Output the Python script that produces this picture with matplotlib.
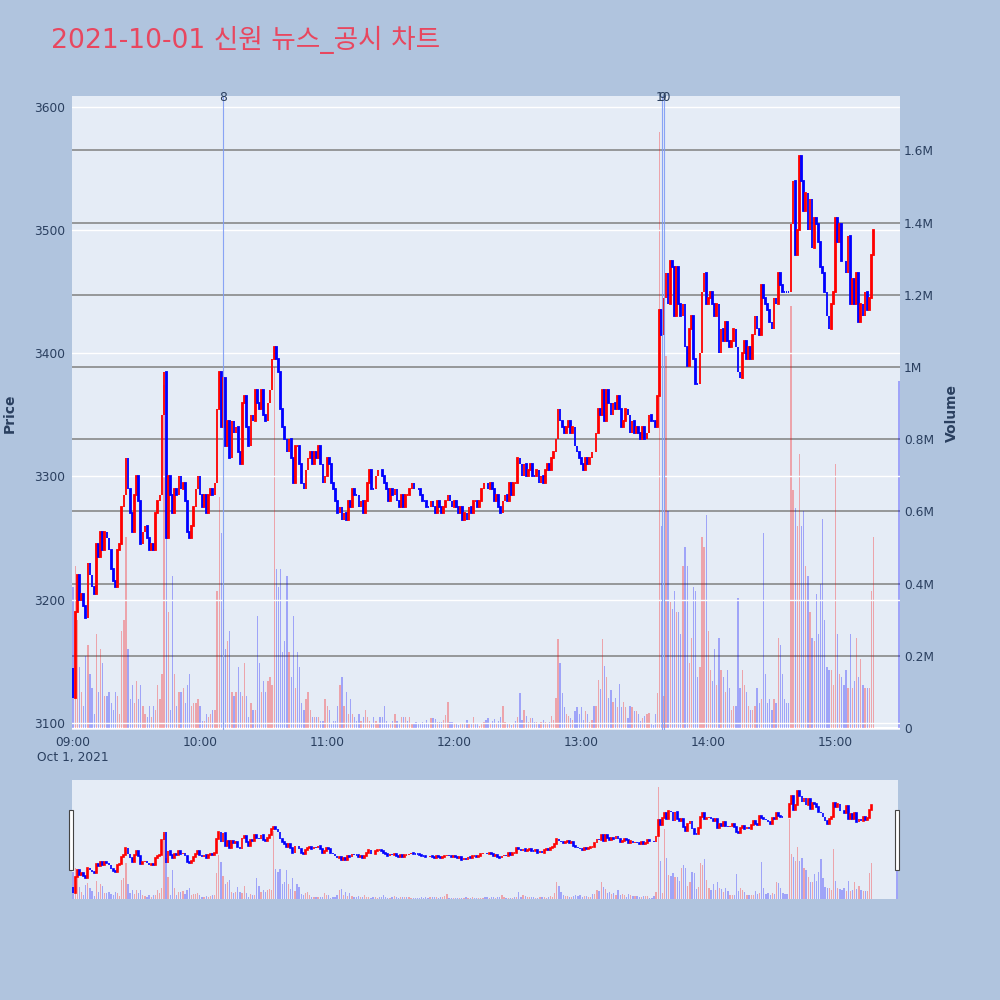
import matplotlib
matplotlib.use('Agg')
import matplotlib.pyplot as plt
from matplotlib.patches import Rectangle

plt.rcParams['font.family'] = ['DejaVu Sans', 'Noto Sans CJK KR']

# ---------------- data ----------------
title = '2021-10-01 신원 뉴스_공시 차트'
first_open = 3145
# 1-minute closes from 09:00 onward
closes = [
    3120, 3190, 3220, 3200, 3205, 3195, 3185, 3230, 3220, 3210,
    3205, 3245, 3235, 3255, 3240, 3255, 3250, 3240, 3225, 3215,
    3210, 3240, 3245, 3275, 3285, 3315, 3290, 3270, 3255, 3285,
    3300, 3280, 3245, 3255, 3260, 3250, 3240, 3245, 3240, 3270,
    3280, 3285, 3350, 3385, 3250, 3300, 3285, 3270, 3290, 3285,
    3300, 3290, 3295, 3280, 3255, 3250, 3260, 3275, 3290, 3300,
    3285, 3275, 3285, 3270, 3285, 3290, 3285, 3295, 3355, 3385,
    3340, 3380, 3325, 3345, 3315, 3345, 3335, 3340, 3320, 3310,
    3360, 3365, 3340, 3325, 3350, 3345, 3370, 3360, 3355, 3370,
    3350, 3345, 3360, 3370, 3395, 3405, 3395, 3385, 3355, 3340,
    3330, 3320, 3330, 3315, 3295, 3325, 3325, 3310, 3295, 3290,
    3305, 3315, 3320, 3310, 3320, 3315, 3325, 3310, 3295, 3300,
    3315, 3310, 3295, 3290, 3280, 3270, 3275, 3265, 3270, 3265,
    3280, 3275, 3290, 3285, 3285, 3275, 3280, 3270, 3280, 3295,
    3305, 3290, 3290, 3300, 3305, 3305, 3300, 3295, 3290, 3280,
    3290, 3285, 3290, 3280, 3275, 3285, 3275, 3285, 3285, 3290,
    3295, 3290, 3290, 3290, 3285, 3280, 3280, 3275, 3275, 3280,
    3275, 3270, 3280, 3275, 3270, 3275, 3280, 3285, 3280, 3275,
    3280, 3275, 3270, 3275, 3265, 3270, 3265, 3275, 3270, 3280,
    3280, 3275, 3280, 3290, 3295, 3295, 3290, 3295, 3290, 3280,
    3285, 3275, 3270, 3280, 3285, 3280, 3295, 3285, 3295, 3295,
    3315, 3310, 3300, 3310, 3300, 3305, 3310, 3300, 3300, 3305,
    3295, 3300, 3295, 3305, 3310, 3305, 3315, 3320, 3330, 3355,
    3345, 3340, 3335, 3340, 3345, 3335, 3340, 3325, 3320, 3315,
    3310, 3305, 3315, 3310, 3315, 3320, 3320, 3335, 3355, 3350,
    3370, 3345, 3370, 3360, 3350, 3360, 3355, 3365, 3355, 3340,
    3345, 3355, 3350, 3335, 3345, 3335, 3340, 3335, 3330, 3340,
    3330, 3335, 3350, 3345, 3345, 3340, 3365, 3435, 3415, 3445,
    3465, 3440, 3475, 3470, 3430, 3470, 3440, 3430, 3440, 3405,
    3390, 3420, 3430, 3395, 3375, 3375, 3400, 3450, 3465, 3440,
    3445, 3450, 3440, 3430, 3440, 3400, 3420, 3410, 3425, 3410,
    3405, 3410, 3420, 3405, 3385, 3380, 3400, 3410, 3395, 3405,
    3395, 3415, 3430, 3420, 3415, 3455, 3445, 3440, 3435, 3425,
    3420, 3445, 3440, 3465, 3455, 3450, 3450, 3450, 3450, 3505,
    3540, 3480, 3500, 3560, 3540, 3515, 3530, 3500, 3525, 3485,
    3510, 3505, 3490, 3470, 3465, 3450, 3430, 3420, 3440, 3450,
    3510, 3490, 3505, 3475, 3475, 3465, 3495, 3440, 3460, 3440,
    3465, 3425, 3440, 3430, 3450, 3435, 3445, 3480, 3500,
]
# 1-minute volumes, millions of shares
volumes_m = [
    0.39, 0.45, 0.30, 0.17, 0.10, 0.06, 0.20, 0.23, 0.15, 0.11,
    0.04, 0.26, 0.10, 0.22, 0.18, 0.09, 0.09, 0.10, 0.07, 0.05,
    0.10, 0.09, 0.04, 0.27, 0.30, 0.53, 0.22, 0.08, 0.12, 0.07,
    0.13, 0.08, 0.12, 0.06, 0.04, 0.03, 0.06, 0.03, 0.06, 0.05,
    0.12, 0.08, 0.15, 0.95, 0.60, 0.32, 0.05, 0.42, 0.15, 0.06,
    0.10, 0.10, 0.11, 0.07, 0.12, 0.15, 0.06, 0.07, 0.07, 0.08,
    0.06, 0.02, 0.02, 0.04, 0.03, 0.04, 0.05, 0.05, 0.38, 0.64,
    0.54, 0.33, 0.22, 0.24, 0.27, 0.10, 0.09, 0.10, 0.17, 0.10,
    0.09, 0.18, 0.09, 0.03, 0.07, 0.05, 0.05, 0.31, 0.18, 0.10,
    0.13, 0.10, 0.13, 0.14, 0.12, 1.00, 0.44, 0.39, 0.44, 0.21,
    0.24, 0.42, 0.21, 0.14, 0.31, 0.11, 0.21, 0.17, 0.07, 0.05,
    0.08, 0.10, 0.05, 0.03, 0.03, 0.03, 0.03, 0.02, 0.02, 0.08,
    0.06, 0.05, 0.01, 0.02, 0.02, 0.06, 0.12, 0.14, 0.06, 0.10,
    0.04, 0.08, 0.04, 0.03, 0.02, 0.04, 0.02, 0.03, 0.05, 0.03,
    0.02, 0.01, 0.03, 0.02, 0.01, 0.03, 0.03, 0.06, 0.02, 0.01,
    0.015, 0.02, 0.04, 0.02, 0.01, 0.03, 0.03, 0.03, 0.02, 0.03,
    0.01, 0.01, 0.016, 0.011, 0.011, 0.018, 0.015, 0.022, 0.015, 0.029,
    0.027, 0.024, 0.018, 0.016, 0.018, 0.022, 0.036, 0.073, 0.016, 0.016,
    0.013, 0.011, 0.008, 0.011, 0.011, 0.015, 0.022, 0.011, 0.015, 0.031,
    0.011, 0.011, 0.006, 0.013, 0.016, 0.022, 0.027, 0.013, 0.02, 0.025,
    0.012, 0.02, 0.03, 0.06, 0.018, 0.015, 0.012, 0.007, 0.012, 0.02,
    0.03, 0.098, 0.023, 0.049, 0.034, 0.018, 0.029, 0.029, 0.018, 0.016,
    0.012, 0.018, 0.023, 0.018, 0.012, 0.018, 0.034, 0.023, 0.084, 0.246,
    0.179, 0.098, 0.057, 0.04, 0.034, 0.029, 0.023, 0.046, 0.057, 0.04,
    0.057, 0.023, 0.046, 0.04, 0.018, 0.023, 0.062, 0.062, 0.134, 0.107,
    0.246, 0.173, 0.14, 0.084, 0.104, 0.073, 0.084, 0.057, 0.123, 0.057,
    0.073, 0.057, 0.029, 0.062, 0.057, 0.046, 0.046, 0.04, 0.02, 0.029,
    0.034, 0.04, 0.042, 0.011, 0.007, 0.04, 0.096, 1.65, 0.56, 0.09,
    1.03, 0.60, 0.35, 0.33, 0.38, 0.32, 0.32, 0.26, 0.45, 0.50,
    0.45, 0.18, 0.25, 0.39, 0.38, 0.14, 0.17, 0.53, 0.50, 0.59,
    0.27, 0.16, 0.13, 0.22, 0.12, 0.25, 0.16, 0.14, 0.10, 0.16,
    0.11, 0.05, 0.06, 0.06, 0.36, 0.11, 0.16, 0.12, 0.10, 0.06,
    0.05, 0.05, 0.06, 0.11, 0.07, 0.08, 0.54, 0.15, 0.07, 0.08,
    0.05, 0.08, 0.07, 0.25, 0.23, 0.15, 0.08, 0.07, 0.07, 1.17,
    0.66, 0.61, 0.56, 0.76, 0.56, 0.60, 0.45, 0.42, 0.32, 0.25,
    0.24, 0.37, 0.26, 0.40, 0.58, 0.30, 0.17, 0.16, 0.16, 0.12,
    0.73, 0.26, 0.15, 0.14, 0.12, 0.16, 0.11, 0.26, 0.11, 0.13,
    0.25, 0.14, 0.19, 0.12, 0.11, 0.11, 0.11, 0.38, 0.53,
]
# closing auction candle at 15:30 (390 minutes after 09:00)
auction_minute = 390
auction_price = 3500
auction_volume_m = 0.96

news_minutes = [71, 278, 279]          # 10:11, 13:38, 13:39
news_labels = ['8', '9', '10']

price_ticks = [3100, 3200, 3300, 3400, 3500, 3600]
vol_ticks_m = [0, 0.2, 0.4, 0.6, 0.8, 1.0, 1.2, 1.4, 1.6]
vol_tick_labels = ['0', '0.2M', '0.4M', '0.6M', '0.8M', '1M', '1.2M', '1.4M', '1.6M']
time_ticks = [0, 60, 120, 180, 240, 300, 360]
time_tick_labels = ['09:00\nOct 1, 2021', '10:00', '11:00', '12:00', '13:00', '14:00', '15:00']

# ---------------- prepare ----------------
n = min(len(closes), len(volumes_m))
minutes = list(range(n)) + [auction_minute]
c_all = closes[:n] + [auction_price]
o_all = [first_open] + closes[:n - 1] + [auction_price]
v_all = volumes_m[:n] + [auction_volume_m]

RED, BLUE = '#FF0000', '#0000FF'
ccols, vcols = [], []
prev = RED
for o, c in zip(o_all, c_all):
    if c > o:
        prev = RED
    elif c < o:
        prev = BLUE
    ccols.append(prev)
    vcols.append(RED if c > o else BLUE)
heights = [c - o for o, c in zip(o_all, c_all)]

TXT = '#2a3f5f'
BG = '#B0C4DE'
PLOT_BG = '#E5ECF6'
XLIM = (-0.5, 390.5)
PLIM = (3094.3, 3608.7)
VLIM = (-0.0055, 1.7504)
TICK_FS = 8.8

fig = plt.figure(figsize=(10, 10), dpi=100, facecolor=BG)


def draw(ax_v, ax_p, lw, bw):
    ax_v.bar(minutes, v_all, width=0.6, color=vcols, alpha=0.3, linewidth=0, zorder=2)
    ax_p.bar(minutes, heights, bottom=o_all, width=bw, color=ccols,
             edgecolor=ccols, linewidth=lw, zorder=3)
    ax_v.set_xlim(*XLIM)
    ax_v.set_ylim(*VLIM)
    ax_p.set_ylim(*PLIM)
    for a in (ax_v, ax_p):
        for s in a.spines.values():
            s.set_visible(False)


# ---------------- main chart ----------------
ax_v = fig.add_axes([0.072, 0.270, 0.828, 0.634])
ax_v.set_facecolor(PLOT_BG)
ax_p = ax_v.twinx()
ax_p.patch.set_visible(False)
draw(ax_v, ax_p, 1.3, 0.35)

ax_v.yaxis.tick_right()
ax_v.yaxis.set_label_position('right')
ax_p.yaxis.tick_left()
ax_p.yaxis.set_label_position('left')

ax_v.set_axisbelow(True)
ax_v.set_yticks(vol_ticks_m)
ax_v.set_yticklabels(vol_tick_labels)
ax_v.grid(axis='y', color='#808080', linewidth=1.1)
ax_v.axhline(0, color='white', linewidth=1.5, zorder=1)

ax_p.set_axisbelow(True)
ax_p.set_yticks(price_ticks)
ax_p.grid(axis='y', color='white', linewidth=1.0)
ax_v.grid(axis='x', visible=False)

ax_v.set_xticks(time_ticks)
ax_v.set_xticklabels(time_tick_labels)
for lab in ax_v.get_xticklabels():
    lab.set_linespacing(1.25)

ax_v.tick_params(axis='both', length=0, labelsize=TICK_FS, labelcolor=TXT)
ax_v.tick_params(axis='y', pad=3)
ax_v.tick_params(axis='x', pad=4)
ax_p.tick_params(axis='y', length=0, labelsize=TICK_FS, labelcolor=TXT, pad=5)

for m, lab in zip(news_minutes, news_labels):
    ax_p.axvline(m, color='#7F9CF5', linewidth=0.8, alpha=0.9, zorder=4)
    ax_p.text(m, 0.9984, lab, transform=ax_p.get_xaxis_transform(),
              ha='center', va='center', fontsize=TICK_FS, color=TXT, zorder=5)

fig.text(0.051, 0.960, title, fontsize=19.2, color='#E8475F', ha='left', va='center')
fig.text(0.010, 0.587, 'Price', rotation=90, fontsize=10, fontweight='bold',
         color=TXT, ha='center', va='center')
fig.text(0.952, 0.587, 'Volume', rotation=90, fontsize=10, fontweight='bold',
         color=TXT, ha='center', va='center')

# ---------------- range slider ----------------
ax_sv = fig.add_axes([0.072, 0.101, 0.826, 0.119])
ax_sv.set_facecolor(PLOT_BG)
ax_sp = ax_sv.twinx()
ax_sp.patch.set_visible(False)
draw(ax_sv, ax_sp, 1.2, 0.35)
for a in (ax_sv, ax_sp):
    a.set_xticks([])
    a.set_yticks([])

for xpx in (69, 895):
    fig.patches.append(Rectangle((xpx / 1000, 1 - 870 / 1000), 4 / 1000, 60 / 1000,
                                 transform=fig.transFigure, facecolor='white',
                                 edgecolor='#444444', linewidth=0.8, zorder=10))

fig.savefig('out.png', dpi=100, facecolor=BG)
